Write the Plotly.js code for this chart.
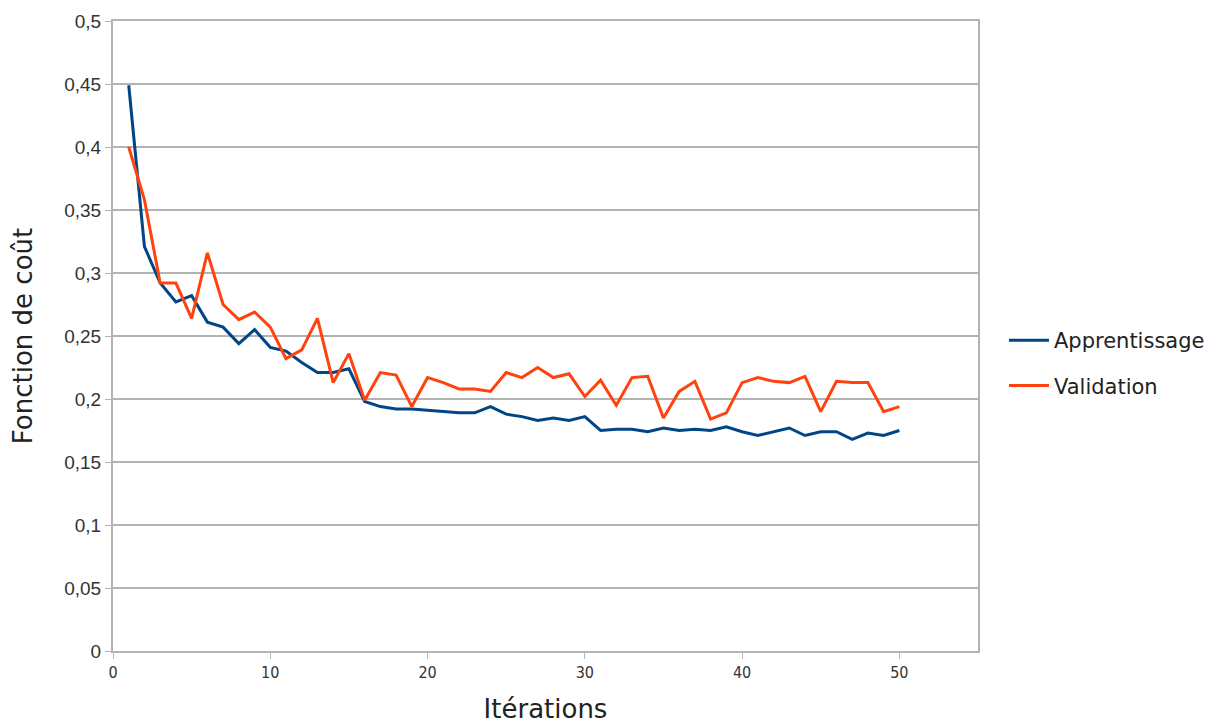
<!DOCTYPE html>
<html><head><meta charset="utf-8">
<script src="https://cdn.plot.ly/plotly-3.0.1.min.js"></script>
<style>html,body{margin:0;padding:0;background:#fff}#c{width:1222px;height:724px}</style>
</head><body><div id="c"></div>
<script>
const iterations = Array.from({length:50},(_,k)=>k+1);
const apprentissage = [0.449,0.321,0.292,0.277,0.282,0.261,0.257,0.244,0.255,0.241,
0.238,0.229,0.221,0.221,0.224,0.198,0.194,0.192,0.192,0.191,
0.190,0.189,0.189,0.194,0.188,0.186,0.183,0.185,0.183,0.186,
0.175,0.176,0.176,0.174,0.177,0.175,0.176,0.175,0.178,0.174,
0.171,0.174,0.177,0.171,0.174,0.174,0.168,0.173,0.171,0.175];
const validation = [0.400,0.358,0.292,0.292,0.264,0.316,0.275,0.263,0.269,0.257,
0.232,0.239,0.264,0.213,0.236,0.199,0.221,0.219,0.194,0.217,
0.213,0.208,0.208,0.206,0.221,0.217,0.225,0.217,0.220,0.202,
0.215,0.195,0.217,0.218,0.185,0.206,0.214,0.184,0.189,0.213,
0.217,0.214,0.213,0.218,0.190,0.214,0.213,0.213,0.190,0.194];
const xTicks = [0,10,20,30,40,50];
const yTicks = [0,0.05,0.1,0.15,0.2,0.25,0.3,0.35,0.4,0.45,0.5];
const yLabels = ["0","0,05","0,1","0,15","0,2","0,25","0,3","0,35","0,4","0,45","0,5"];

const traces = [
 {x:iterations,y:apprentissage,name:"Apprentissage",legendgroup:"a",mode:"lines",line:{color:"#004586",width:3}},
 {x:iterations,y:validation,name:"Validation",legendgroup:"b",mode:"lines",line:{color:"#ff420e",width:3}}
];
const layout = {
 width:1222,height:724,
 margin:{l:113,r:242,t:21,b:73},
 paper_bgcolor:"#fff",plot_bgcolor:"#fff",
 font:{family:"Liberation Sans, Arial, sans-serif",size:13,color:"#333"},
 showlegend:true,
 legend:{x:1.03,y:0.457,xanchor:"left",yanchor:"middle",traceorder:"grouped",tracegroupgap:15,
   font:{family:"DejaVu Sans",size:21,color:"#222"},itemwidth:40,borderwidth:0},
 xaxis:{range:[0,55],tickvals:xTicks,ticktext:xTicks.map(String),showgrid:false,zeroline:false,
   showline:true,linecolor:"#b3b3b3",linewidth:2,mirror:true,ticks:"outside",ticklen:6,tickcolor:"#b3b3b3",
   tickfont:{family:"DejaVu Sans Condensed, DejaVu Sans",size:16,color:"#333"},
   title:{text:"Itérations",font:{family:"DejaVu Sans",size:26,color:"#222"},standoff:26}},
 yaxis:{range:[0,0.5],tickvals:yTicks,ticktext:yLabels,showgrid:true,gridcolor:"#b3b3b3",gridwidth:1.5,zeroline:false,
   showline:true,linecolor:"#b3b3b3",linewidth:2,mirror:true,ticks:"outside",ticklen:6,tickcolor:"#b3b3b3",
   tickfont:{family:"Liberation Sans, Arial",size:19,color:"#333"},
   title:{text:"Fonction de coût",font:{family:"DejaVu Sans",size:26,color:"#222"},standoff:24}}
};
Plotly.newPlot("c",traces,layout,{staticPlot:true});
</script></body></html>
